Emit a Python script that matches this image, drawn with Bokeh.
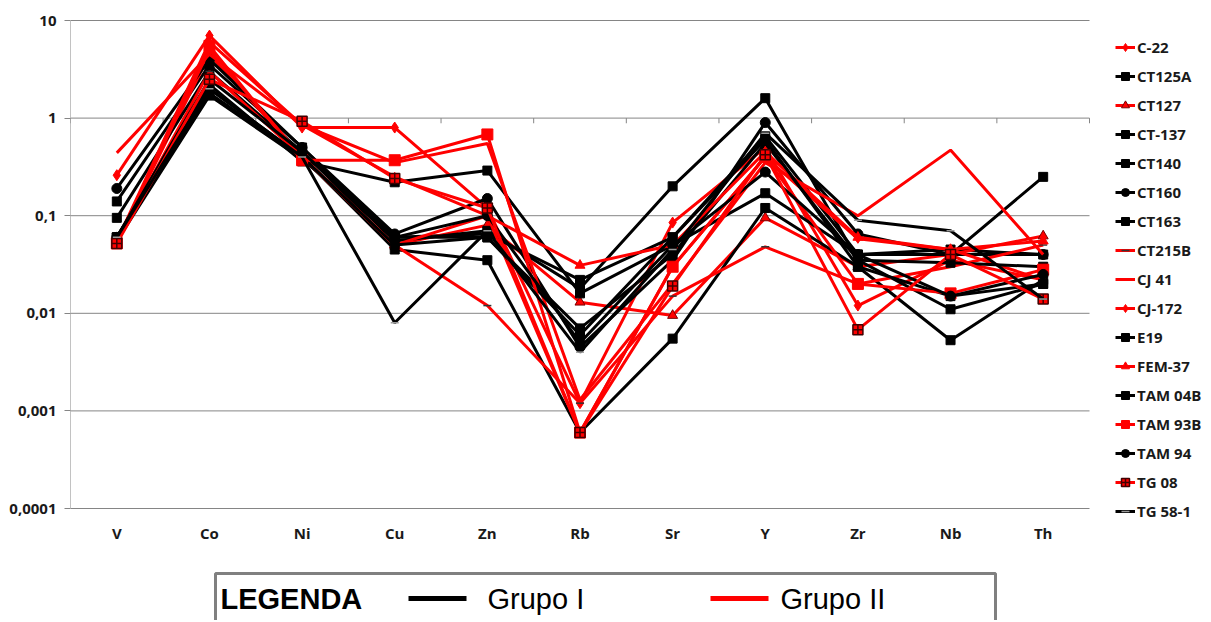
from bokeh.plotting import figure
from bokeh.models import (Range1d, FixedTicker, CustomJSTickFormatter, Legend, LegendItem, LinearScale)
from bokeh.core.properties import value
from bokeh.embed import file_html
from bokeh.resources import INLINE

elements = ["V", "Co", "Ni", "Cu", "Zn", "Rb", "Sr", "Y", "Zr", "Nb", "Th"]
y_ticks = [0.0001, 0.001, 0.01, 0.1, 1, 10]

# Grupo II (red)
c22 = [0.26, 7.0, 0.80, 0.80, 0.12, 0.0012, 0.085, 0.50, 0.012, 0.035, 0.022]
ct127 = [0.055, 4.5, 0.40, 0.050, 0.080, 0.013, 0.0095, 0.095, 0.030, 0.040, 0.062]
ct215b = [0.055, 3.0, 0.40, 0.050, 0.012, 0.0012, 0.015, 0.048, 0.020, 0.030, 0.050]
cj41 = [0.44, 4.5, 0.85, 0.35, 0.55, 0.0013, 0.020, 0.35, 0.10, 0.47, 0.040]
cj172 = [0.055, 6.0, 0.85, 0.25, 0.10, 0.0006, 0.030, 0.40, 0.058, 0.045, 0.022]
fem37 = [0.055, 5.0, 0.40, 0.050, 0.10, 0.031, 0.050, 0.45, 0.060, 0.045, 0.055]
tam93b = [0.052, 5.5, 0.37, 0.37, 0.68, 0.0006, 0.030, 0.40, 0.020, 0.016, 0.028]
tg08 = [0.052, 2.5, 0.93, 0.24, 0.12, 0.0006, 0.019, 0.42, 0.0068, 0.040, 0.014]

# Grupo I (black)
ct125a = [0.14, 3.5, 0.50, 0.060, 0.065, 0.022, 0.060, 0.65, 0.040, 0.045, 0.040]
ct137 = [0.095, 3.0, 0.45, 0.055, 0.070, 0.018, 0.20, 1.6, 0.035, 0.011, 0.020]
ct140 = [0.060, 2.0, 0.40, 0.045, 0.035, 0.0006, 0.0055, 0.12, 0.030, 0.0053, 0.022]
ct160 = [0.19, 4.0, 0.50, 0.065, 0.15, 0.0045, 0.035, 0.90, 0.065, 0.040, 0.040]
ct163 = [0.060, 2.2, 0.36, 0.22, 0.29, 0.016, 0.050, 0.17, 0.040, 0.040, 0.25]
e19 = [0.055, 1.7, 0.38, 0.060, 0.060, 0.007, 0.040, 0.55, 0.035, 0.033, 0.030]
tam04b = [0.060, 1.8, 0.40, 0.050, 0.060, 0.006, 0.060, 0.60, 0.030, 0.015, 0.020]
tam94 = [0.060, 2.5, 0.45, 0.060, 0.10, 0.005, 0.050, 0.28, 0.040, 0.015, 0.025]
tg581 = [0.060, 2.0, 0.40, 0.008, 0.070, 0.004, 0.045, 0.70, 0.090, 0.070, 0.014]

groups = ["Grupo I", "Grupo II"]
legend_title = "LEGENDA"

RED = "#FF0000"
BLK = "#000000"
GRID = "#858585"

series = [
    ("C-22", c22, RED, "diamond", RED, RED, 11),
    ("CT125A", ct125a, BLK, "square", BLK, BLK, 9),
    ("CT127", ct127, RED, "triangle", RED, "#7a0000", 10),
    ("CT-137", ct137, BLK, "square", BLK, BLK, 9),
    ("CT140", ct140, BLK, "square", BLK, BLK, 9),
    ("CT160", ct160, BLK, "circle", BLK, BLK, 10),
    ("CT163", ct163, BLK, "square", BLK, BLK, 9),
    ("CT215B", ct215b, RED, "dash", "#333333", "#333333", 8),
    ("CJ 41", cj41, RED, None, None, None, 0),
    ("CJ-172", cj172, RED, "diamond", RED, RED, 9),
    ("E19", e19, BLK, "square", BLK, BLK, 9),
    ("FEM-37", fem37, RED, "triangle", RED, RED, 10),
    ("TAM 04B", tam04b, BLK, "square", BLK, BLK, 9),
    ("TAM 93B", tam93b, RED, "square", RED, RED, 11),
    ("TAM 94", tam94, BLK, "circle", BLK, BLK, 10),
    ("TG 08", tg08, RED, "square_cross", RED, "#400000", 10),
    ("TG 58-1", tg581, BLK, "dash", "#9a9a9a", "#9a9a9a", 8),
]

xs = list(range(len(elements)))

# page geometry (pixels)
W, H = 1205, 620
LEFT = 70
PLOT_TOP, PLOT_BOTTOM = 20, 508
PLOT_RIGHT = 1089
ncat = len(elements)
px_per_cat = (PLOT_RIGHT - LEFT) / ncat
decade = (PLOT_BOTTOM - PLOT_TOP) / 5.0
x_end = -0.5 + (W - LEFT) / px_per_cat
y_end = 10 ** (1 + PLOT_TOP / decade)
y_start = 10 ** (-4 - (H - PLOT_BOTTOM) / decade)

p = figure(width=W, height=H, y_axis_type="log",
           x_range=Range1d(-0.5, x_end), y_range=Range1d(y_start, y_end),
           output_backend="svg", toolbar_location=None,
           min_border_left=LEFT, min_border_right=0, min_border_top=0, min_border_bottom=0)
p.extra_x_ranges = {"px": Range1d(LEFT, W)}
p.extra_y_ranges = {"px": Range1d(H, 0)}
p.extra_y_scales = {"px": LinearScale()}
p.outline_line_color = None
p.grid.visible = False
p.xaxis.visible = False
p.yaxis.ticker = FixedTicker(ticks=y_ticks)
p.yaxis.formatter = CustomJSTickFormatter(code="return tick.toString().replace('.', ',');")
p.yaxis.axis_line_color = None
p.yaxis.major_tick_line_color = GRID
p.yaxis.major_tick_out = 6
p.yaxis.major_tick_in = 0
p.yaxis.minor_tick_line_color = None
p.yaxis.major_label_standoff = 8
p.yaxis.major_label_text_font = "Open Sans"
p.yaxis.major_label_text_font_size = "15px"
p.yaxis.major_label_text_font_style = "bold"
p.yaxis.major_label_text_color = "#1a1a1a"

# gridlines and axis line across the category span only
p.segment(x0=[-0.5] * len(y_ticks), x1=[ncat - 0.5] * len(y_ticks), y0=y_ticks, y1=y_ticks,
          line_color=GRID, line_width=1)
p.segment(x0=[-0.5], x1=[-0.5], y0=[y_ticks[0]], y1=[y_ticks[-1]], line_color=GRID, line_width=1)

# category boundary ticks on the axis crossing at 1
bx = [i - 0.5 for i in range(ncat + 1)]
p.segment(x0=bx, y0=[1] * len(bx), x1=bx, y1=[0.885] * len(bx), line_color=GRID, line_width=1)

# category labels
p.text(x=xs, y=[532] * ncat, text=elements, y_range_name="px",
       text_font=value("Open Sans"), text_font_size="15px", text_font_style="bold",
       text_color="#1a1a1a", text_align="center", text_baseline="middle")

items = []
for name, vals, col, marker, mfill, mline, msize in series:
    rs = [p.line(xs, vals, line_color=col, line_width=3)]
    if marker:
        rs.append(p.scatter(xs, vals, marker=marker, size=msize, fill_color=mfill,
                            line_color=mline, line_width=1.5 if marker in ("dash", "square_cross") else 1))
    items.append(LegendItem(label=name, renderers=rs))

legend = Legend(items=items, location=(1113 - LEFT, H - 523), glyph_width=20, glyph_height=20,
                label_height=20, spacing=9, padding=2, margin=0, label_standoff=2,
                border_line_alpha=0, background_fill_alpha=0,
                label_text_font="Open Sans", label_text_font_size="15px",
                label_text_font_style="bold", label_text_color="#1a1a1a")
p.add_layout(legend)

# bottom "LEGENDA" box (pixel coordinates)
group_colors = [BLK, RED]
p.quad(left=[215], right=[995], top=[573], bottom=[660], fill_color=None,
       line_color="#808080", line_width=3, x_range_name="px", y_range_name="px")
p.text(x=[220], y=[598], text=[legend_title], text_font=value("Liberation Sans"),
       text_font_size="29px", text_font_style="bold", text_baseline="middle",
       text_color="#000000", x_range_name="px", y_range_name="px")
p.segment(x0=[408, 710], y0=[598, 598], x1=[466, 768], y1=[598, 598], line_color=group_colors,
          line_width=5, x_range_name="px", y_range_name="px")
p.text(x=[487, 780], y=[598, 598], text=groups, text_font=value("Liberation Sans"),
       text_font_size="29px", text_baseline="middle", text_color="#000000",
       x_range_name="px", y_range_name="px")

open("out.html", "w").write(file_html(p, INLINE))
